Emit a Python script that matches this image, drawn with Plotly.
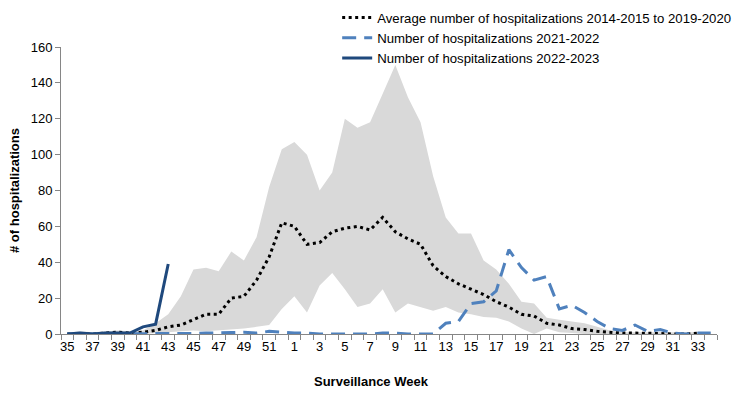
import plotly.graph_objects as go

weeks = [str(w) for w in list(range(35, 53)) + list(range(1, 35))]

avg = [0, 0, 0, 0.5, 1, 0.5, 1, 2, 4, 5, 8, 11, 11, 20, 21, 30, 43, 62,
       60, 50, 51, 57, 59, 60, 58, 65, 57, 53, 50, 38, 32, 28, 25, 22, 18, 15,
       11, 10, 6, 5, 3, 2.5, 1.5, 1, 0.5, 0.5, 0.5, 0.3, 0, 0, 0.5, None]

band_low = [0, 0, 0, 0, 0, 0, 0, 0.5, 1, 1.5, 2, 1.5, 2, 2.5, 3, 4, 5, 14,
            21, 12, 27, 34, 25, 15, 17, 25, 12, 17, 15, 13, 15, 12, 11, 9.5, 9, 7,
            3, 0, 3, 1, 0.5, 0, 0, 0, 0, 0, 0, 0, 0, 0, 0, 0]

band_high = [0.5, 1.5, 1, 1.5, 2, 1.5, 2, 6, 11, 21, 36, 37, 35, 46, 41, 54, 82, 103,
             107, 100, 80, 90, 120, 115, 118, 134, 150, 132, 118, 88, 65, 56, 56, 41, 36, 28,
             18, 17, 9, 8, 7, 6, 4, 2, 1, 1, 1, 1, 1, 1, 1, 1]

s2122 = [0, 0, 0, 0, 0, 0, 0, 0, 0, 0, 0.3, 0.5, 0.5, 0.8, 1, 0.5, 1.5, 1,
         0.5, 0.5, 0, 0, 0, 0, 0, 0.5, 0.5, 0, 0, 0, 6, 7, 17, 18, 24, 47,
         37, 30, 32, 14, 16, 12, 7, 3, 2, 5, 1.5, 2.5, 0.5, 0, 0.5, 0.5]

s2223 = [0, 0.5, 0, 0.5, 0.5, 0.7, 4, 5.5, 39]

y_ticks = [0, 20, 40, 60, 80, 100, 120, 140, 160]

idx = list(range(len(weeks)))

fig = go.Figure()

fig.add_trace(go.Scatter(x=idx, y=band_low, mode="lines", line=dict(width=0),
                         showlegend=False, hoverinfo="skip"))
fig.add_trace(go.Scatter(x=idx, y=band_high, mode="lines", line=dict(width=0),
                         fill="tonexty", fillcolor="#d9d9d9",
                         showlegend=False, hoverinfo="skip"))

fig.add_trace(go.Scatter(x=idx, y=avg, mode="lines",
                         name="Average number of hospitalizations 2014-2015 to 2019-2020",
                         line=dict(color="black", width=3, dash="3px,3.5px")))
fig.add_trace(go.Scatter(x=idx, y=s2122, mode="lines",
                         name="Number of hospitalizations 2021-2022",
                         line=dict(color="#4f81bd", width=3, dash="14px,8px")))
fig.add_trace(go.Scatter(x=idx[:len(s2223)], y=s2223, mode="lines",
                         name="Number of hospitalizations 2022-2023",
                         line=dict(color="#1f497d", width=3)))

fig.update_layout(
    width=740, height=394,
    margin=dict(l=61, r=23, t=47, b=60, autoexpand=False),
    paper_bgcolor="white", plot_bgcolor="white",
    font=dict(family="Liberation Sans, Arial, sans-serif", size=13, color="black"),
    showlegend=True,
    legend=dict(x=0.421, y=1.155, xanchor="left", yanchor="top",
                font=dict(size=13.2), bgcolor="rgba(0,0,0,0)",
                tracegroupgap=0, traceorder="normal"),
    xaxis=dict(
        range=[-0.5, 51.5],
        tickmode="array",
        tickvals=idx[::2],
        ticktext=weeks[::2],
        ticks="", showline=True, linecolor="#868686", linewidth=1,
        showgrid=False, zeroline=False,
        tickfont=dict(size=13),
        minor=dict(tickmode="array", tickvals=[i - 0.5 for i in range(53)],
                   ticks="outside", ticklen=5, tickcolor="#868686", showgrid=False),
    ),
    yaxis=dict(
        range=[0, 160],
        tickmode="array", tickvals=y_ticks,
        ticks="outside", ticklen=5, tickcolor="#868686",
        showline=True, linecolor="#868686", linewidth=1,
        showgrid=False, zeroline=False,
        tickfont=dict(size=13),
        title=dict(text="<b># of hospitalizations</b>", font=dict(size=13), standoff=8),
    ),
    annotations=[dict(text="<b>Surveillance Week</b>", x=0.474, y=-0.165,
                      xref="paper", yref="paper", showarrow=False,
                      xanchor="center", yanchor="middle", font=dict(size=13))],
)

fig.write_html("out.html", config={"displayModeBar": False},
               post_script="document.body.style.margin='0';")
